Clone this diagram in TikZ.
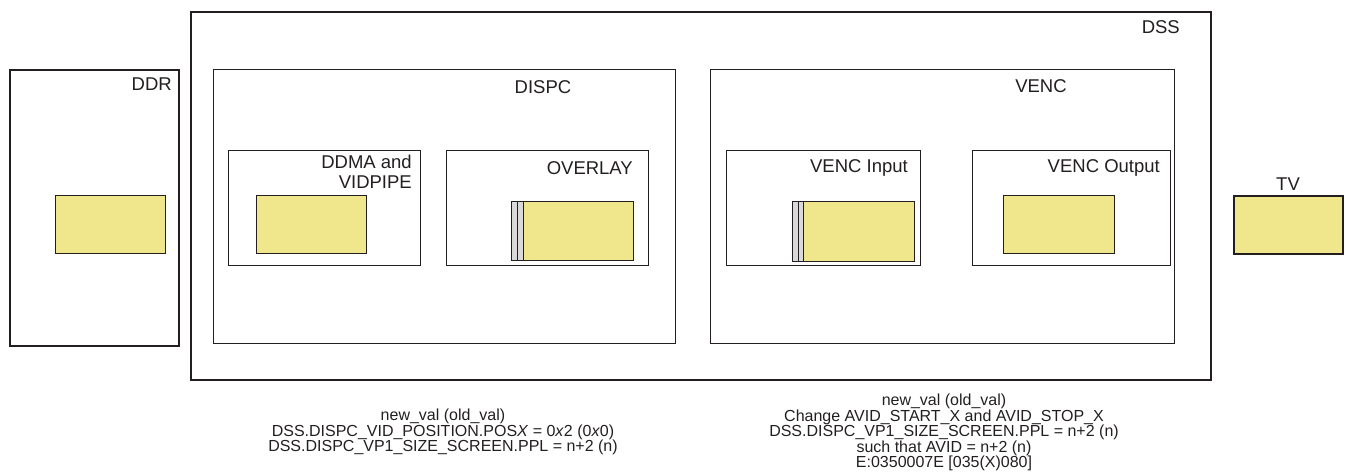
\documentclass[tikz,border=0pt]{standalone}
\usepackage{fontspec}
\setmainfont{Liberation Sans}
\definecolor{ink}{HTML}{231F20}
\definecolor{pale}{HTML}{F0E68C}
\definecolor{strip}{HTML}{D9D9D9}
\tikzset{
  box/.style={draw=ink, line width=1pt, fill=white, anchor=north west, inner sep=0pt},
  thickbox/.style={box, line width=2.2pt},
  ybox/.style={draw=ink, line width=0.9pt, fill=pale, anchor=north west, inner sep=0pt},
  sbox/.style={draw=ink, line width=0.8pt, fill=strip, anchor=north west, inner sep=0pt},
  lbl/.style={text=ink, font=\fontsize{18.5}{20}\selectfont, inner sep=0pt},
  note/.style={text=ink, font=\fontsize{16}{15.5}\selectfont, align=center, inner sep=0pt}
}
\begin{document}
\begin{tikzpicture}[x=1pt,y=-1pt]
\useasboundingbox (0,0) rectangle (1346,472);
% DSS
\node[thickbox, line width=2pt, minimum width=1020pt, minimum height=368pt] (dss) at (190,11) {};
\node[lbl, anchor=base east] (dsslbl) at (1180,33) {DSS};
% DDR
\node[thickbox, minimum width=169pt, minimum height=276pt] (ddr) at (9,69) {};
\node[lbl, anchor=base east] (ddrlbl) at (172,90) {DDR};
\node[ybox, minimum width=110pt, minimum height=58pt] (ddry) at (55,195) {};
% DISPC
\node[box, minimum width=462pt, minimum height=274pt] (dispc) at (213,69) {};
\node[lbl, anchor=base] (dispclbl) at (543,93) {DISPC};
% VENC
\node[box, minimum width=464pt, minimum height=274pt] (venc) at (710,69) {};
\node[lbl, anchor=base] (venclbl) at (1041,92) {VENC};
% DDMA and VIDPIPE
\node[box, minimum width=192pt, minimum height=115pt] (ddma) at (228,150) {};
\node[lbl, anchor=north east, align=right] (ddmalbl) at (412,154.8) {DDMA and\\VIDPIPE};
\node[ybox, minimum width=110pt, minimum height=58pt] (ddmay) at (256,195) {};
% OVERLAY
\node[box, minimum width=202pt, minimum height=115pt] (ovl) at (446,150) {};
\node[lbl, anchor=base east] (ovllbl) at (633,174) {OVERLAY};
\node[sbox, minimum width=6pt, minimum height=59pt] (ovls1) at (511,201) {};
\node[sbox, minimum width=6pt, minimum height=59pt] (ovls2) at (517,201) {};
\node[ybox, minimum width=110pt, minimum height=59pt] (ovly) at (523,201) {};
% VENC Input
\node[box, minimum width=194pt, minimum height=115pt] (vin) at (726,150) {};
\node[lbl, anchor=base east] (vinlbl) at (908,172) {VENC Input};
\node[sbox, minimum width=6pt, minimum height=60pt] (vins1) at (792,201) {};
\node[sbox, minimum width=6pt, minimum height=60pt] (vins2) at (798,201) {};
\node[ybox, minimum width=111pt, minimum height=60pt] (viny) at (803,201) {};
% VENC Output
\node[box, minimum width=198pt, minimum height=115pt] (vout) at (972,150) {};
\node[lbl, anchor=base east] (voutlbl) at (1160,172) {VENC Output};
\node[ybox, minimum width=111pt, minimum height=58pt] (vouty) at (1003,195) {};
% TV
\node[ybox, line width=2.2pt, minimum width=109pt, minimum height=58pt] (tv) at (1233,195) {};
\node[lbl, anchor=base] (tvlbl) at (1288,190) {TV};
% notes
\node[note, anchor=north] (note1) at (443,409) {new\_val (old\_val)\\DSS.DISPC\_VID\_POSITION.POS\textit{X} = 0\textit{x}2 (0\textit{x}0)\\DSS.DISPC\_VP1\_SIZE\_SCREEN.PPL = n+2 (n)};
\node[note, anchor=north] (note2) at (944,394) {new\_val (old\_val)\\Change AVID\_START\_X and AVID\_STOP\_X\\DSS.DISPC\_VP1\_SIZE\_SCREEN.PPL = n+2 (n)\\such that AVID = n+2 (n)\\E:0350007E [035(X)080]};
\end{tikzpicture}
\end{document}
